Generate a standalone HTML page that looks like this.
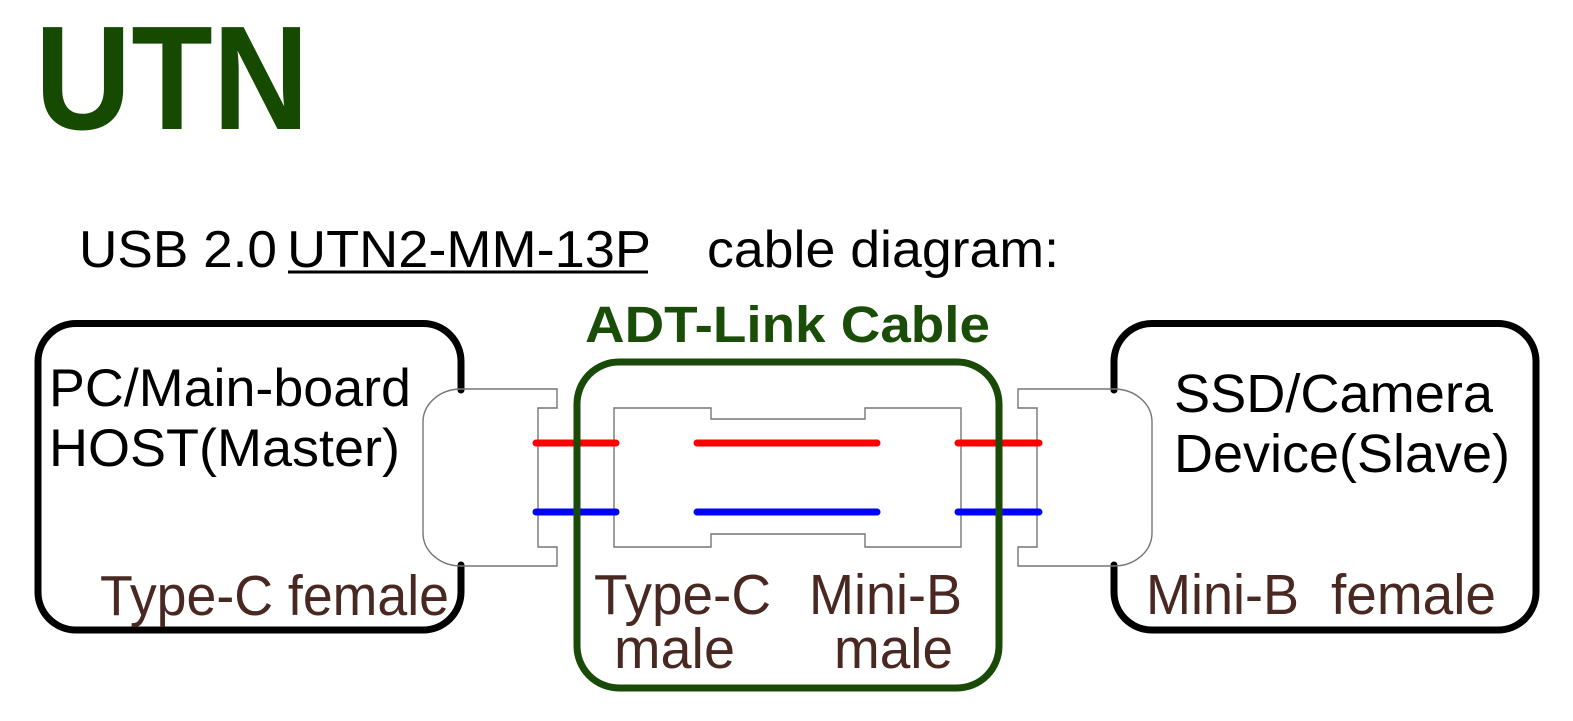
<!DOCTYPE html>
<html>
<head>
<meta charset="utf-8">
<style>
html,body{margin:0;padding:0;background:#fff;}
svg{display:block;}
text{font-family:"Liberation Sans",Arial,sans-serif;}
</style>
</head>
<body>
<svg width="1573" height="721" viewBox="0 0 1573 721" xmlns="http://www.w3.org/2000/svg">
<rect width="1573" height="721" fill="#fff"/>

<!-- Title -->
<text x="35" y="129" font-size="148" font-weight="bold" fill="#164a00" textLength="274" lengthAdjust="spacingAndGlyphs">UTN</text>

<!-- Subtitle -->
<text x="79" y="267" font-size="52" fill="#000" textLength="198" lengthAdjust="spacingAndGlyphs">USB 2.0</text>
<text x="287" y="267" font-size="52" fill="#000" textLength="364" lengthAdjust="spacingAndGlyphs">UTN2-MM-13P</text>
<rect x="288" y="270.5" width="360" height="3" fill="#000"/>
<text x="707" y="267" font-size="52" fill="#000" textLength="352" lengthAdjust="spacingAndGlyphs">cable diagram:</text>

<!-- ADT-Link Cable -->
<text x="585" y="342" font-size="51" font-weight="bold" fill="#1a4d08" textLength="405" lengthAdjust="spacingAndGlyphs">ADT-Link Cable</text>

<!-- Left box -->
<path d="M461,390 L461,361.5 A38,38 0 0 0 423,323.5 L76,323.5 A38,38 0 0 0 38,361.5 L38,592 A38,38 0 0 0 76,630 L423,630 A38,38 0 0 0 461,592 L461,565" fill="none" stroke="#000" stroke-width="7" stroke-linecap="round" stroke-linejoin="round"/>

<!-- Right box -->
<path d="M1114,390 L1114,361.5 A38,38 0 0 1 1152,323.5 L1498,323.5 A38,38 0 0 1 1536,361.5 L1536,592 A38,38 0 0 1 1498,630 L1152,630 A38,38 0 0 1 1114,592 L1114,565" fill="none" stroke="#000" stroke-width="7" stroke-linecap="round" stroke-linejoin="round"/>

<!-- Left receptacle -->
<path d="M461,389 A38,33 0 0 0 423,422 L423,533 A38,33 0 0 0 461,566 L557,566 L557,547 L538,547 L538,408 L557,408 L557,389 Z" fill="none" stroke="#7a7474" stroke-width="1.4"/>

<!-- Right receptacle -->
<path d="M1114,389 A38,33 0 0 1 1152,422 L1152,533 A38,33 0 0 1 1114,566 L1018,566 L1018,547 L1037,547 L1037,408 L1018,408 L1018,389 Z" fill="none" stroke="#7a7474" stroke-width="1.4"/>

<!-- Plug outline -->
<path d="M614,408 L711,408 L711,419 L865,419 L865,408 L961,408 L961,547 L865,547 L865,534 L711,534 L711,547 L614,547 Z" fill="none" stroke="#7a7474" stroke-width="1.4"/>

<!-- Wires -->
<g stroke-width="7" stroke-linecap="round">
<line x1="536" y1="443" x2="616" y2="443" stroke="#ff0000"/>
<line x1="697" y1="443" x2="877" y2="443" stroke="#ff0000"/>
<line x1="958" y1="443" x2="1039" y2="443" stroke="#ff0000"/>
<line x1="536" y1="512" x2="616" y2="512" stroke="#0000ff"/>
<line x1="697" y1="512" x2="877" y2="512" stroke="#0000ff"/>
<line x1="958" y1="512" x2="1039" y2="512" stroke="#0000ff"/>
</g>

<!-- Cable green box -->
<rect x="577" y="362" width="422" height="326" rx="42" ry="42" fill="none" stroke="#1a4a08" stroke-width="7"/>

<!-- Left box text -->
<text x="49" y="406" font-size="53" fill="#000" textLength="362" lengthAdjust="spacingAndGlyphs">PC/Main-board</text>
<text x="49" y="466" font-size="53" fill="#000" textLength="351" lengthAdjust="spacingAndGlyphs">HOST(Master)</text>
<text x="100" y="615" font-size="57" fill="#4a2822" textLength="349" lengthAdjust="spacingAndGlyphs">Type-C female</text>

<!-- Right box text -->
<text x="1174" y="412" font-size="54" fill="#000" textLength="319" lengthAdjust="spacingAndGlyphs">SSD/Camera</text>
<text x="1174" y="472" font-size="54" fill="#000" textLength="336" lengthAdjust="spacingAndGlyphs">Device(Slave)</text>
<text x="1146" y="614" font-size="57" fill="#4a2822" textLength="153" lengthAdjust="spacingAndGlyphs">Mini-B</text>
<text x="1331" y="614" font-size="57" fill="#4a2822" textLength="165" lengthAdjust="spacingAndGlyphs">female</text>

<!-- Cable labels -->
<text x="594" y="614" font-size="57" fill="#4a2822" textLength="177" lengthAdjust="spacingAndGlyphs">Type-C</text>
<text x="614" y="668" font-size="57" fill="#4a2822" textLength="121" lengthAdjust="spacingAndGlyphs">male</text>
<text x="809" y="614" font-size="57" fill="#4a2822" textLength="153" lengthAdjust="spacingAndGlyphs">Mini-B</text>
<text x="834" y="668" font-size="57" fill="#4a2822" textLength="119" lengthAdjust="spacingAndGlyphs">male</text>
</svg>
</body>
</html>
